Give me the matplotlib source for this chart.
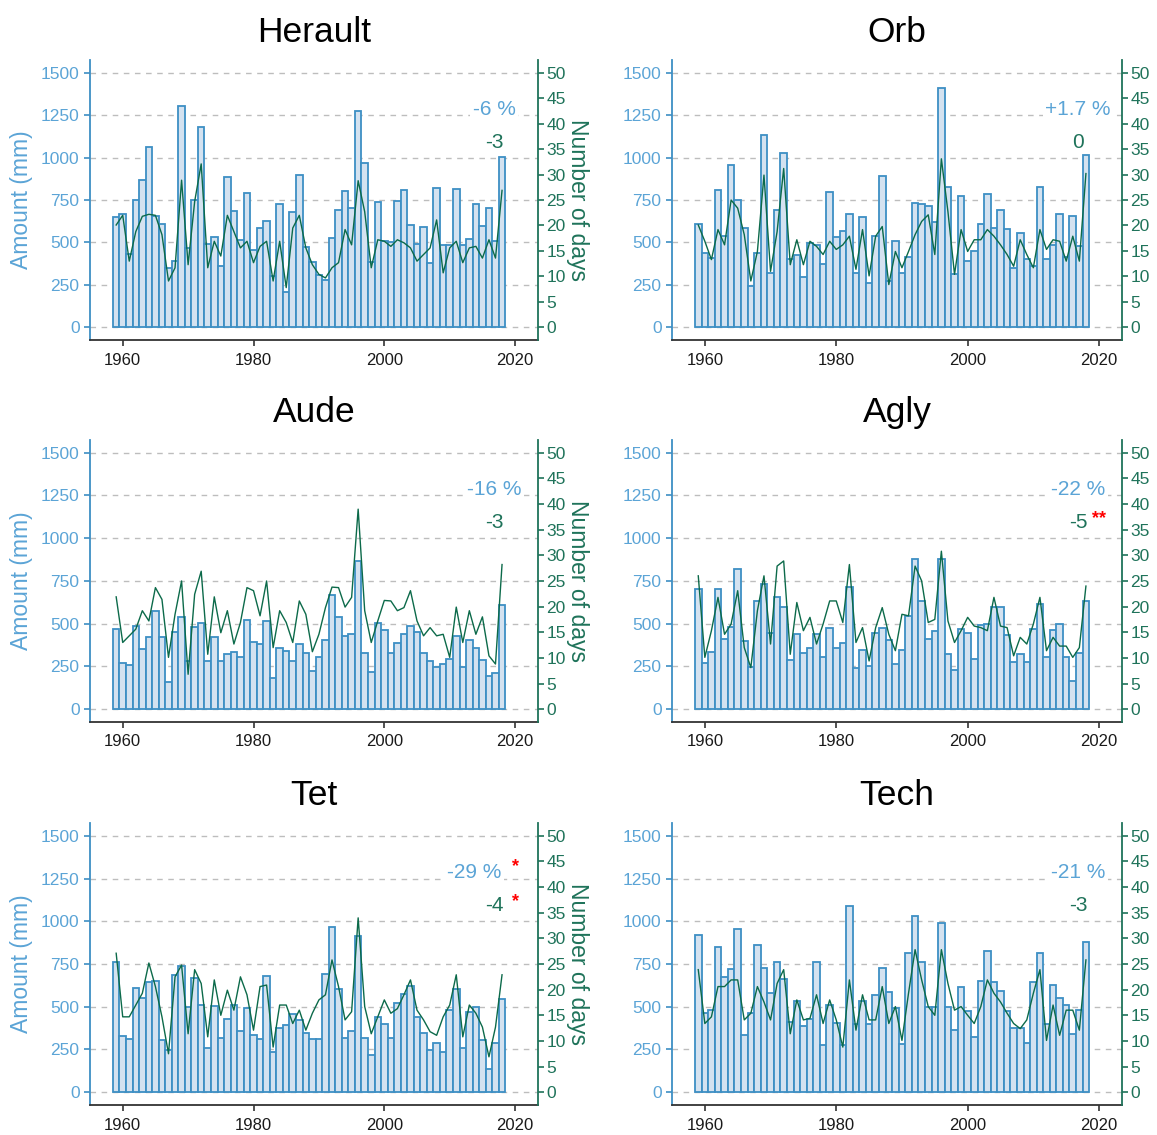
import matplotlib
matplotlib.use("Agg")
import matplotlib.pyplot as plt
import numpy as np

plt.rcParams['font.family'] = ['Liberation Sans', 'DejaVu Sans']

years = np.arange(1959, 2019)

herault_mm = [650, 665, 430, 750, 870, 1063, 658, 608, 349, 390,
              1305, 468, 752, 1183, 489, 532, 364, 886, 686, 516,
              793, 458, 584, 627, 300, 727, 210, 678, 896, 473,
              387, 309, 279, 527, 694, 803, 702, 1273, 970, 387,
              737, 508, 500, 747, 811, 602, 493, 590, 381, 820,
              488, 488, 813, 488, 518, 727, 596, 703, 508, 1006]
herault_days = [20.1, 22, 13, 18.8, 21.8, 22.2, 22, 18.2, 9.1, 11.7,
                28.9, 12.3, 24.7, 32.1, 11.7, 16.9, 14, 22, 18.8, 15.6,
                16.9, 12.7, 15.9, 16.9, 9.1, 16.9, 7.8, 19.5, 22, 15.6,
                12.3, 10.4, 9.7, 11.7, 12.7, 19.2, 16.2, 28.8, 22.7, 11.7,
                17.2, 16.9, 15.9, 17.2, 16.6, 15.6, 13, 14.3, 15.6, 21.1,
                10.7, 15.6, 16.9, 12.7, 15.6, 15.9, 13.6, 17.2, 13.6, 26.9]

orb_mm = [608, 438, 410, 808, 540, 955, 750, 584, 244, 438,
          1136, 321, 692, 1027, 405, 429, 296, 497, 487, 374,
          795, 530, 565, 666, 321, 649, 263, 536, 892, 270,
          507, 318, 415, 734, 727, 717, 618, 1409, 828, 312,
          776, 390, 448, 608, 785, 584, 692, 577, 347, 557,
          403, 364, 826, 405, 487, 666, 415, 658, 481, 1013]
orb_days = [20.1, 16.9, 13.3, 19.2, 16.2, 25, 23.4, 18.2, 9.1, 14.9,
            29.9, 11, 18.8, 31.2, 12.3, 17.2, 12.3, 16.9, 15.9, 14.3,
            16.9, 15.3, 16.2, 17.9, 11.4, 19.2, 10.1, 17.9, 19.8, 8.4,
            14.9, 11.7, 14.9, 18.2, 20.8, 22.1, 14.3, 33.1, 22.7, 10.4,
            19.2, 14.9, 17.2, 17.2, 19.2, 17.9, 16.2, 14.3, 12, 17.2,
            14.3, 11.7, 19.2, 15.3, 17.2, 16.9, 13, 17.9, 13, 30.2]

aude_mm = [471, 269, 261, 489, 353, 423, 575, 423, 160, 454,
           540, 282, 479, 505, 279, 423, 279, 321, 337, 304,
           524, 395, 380, 514, 185, 355, 339, 279, 380, 327,
           224, 306, 403, 668, 540, 427, 442, 867, 329, 220,
           505, 464, 329, 388, 438, 489, 454, 329, 279, 244,
           263, 294, 429, 244, 403, 360, 286, 193, 212, 608]
aude_days = [21.9, 13, 14.3, 15.6, 19.2, 17.2, 23.7, 21.4, 10.1, 18.5,
             25, 6.8, 22.4, 26.9, 10.7, 21.9, 14.9, 19.2, 12.7, 16.9,
             23.7, 23.1, 18.2, 25, 12, 19.2, 16.9, 13, 21.1, 18.5,
             11.2, 14.6, 19.8, 23.8, 23.7, 19.9, 21.8, 39, 19.2, 13,
             17.2, 21.2, 21.1, 19.2, 19.8, 23.1, 17.2, 14.3, 15.9, 14.3,
             14.6, 10.1, 19.9, 13, 19.2, 14.6, 18, 10.4, 8.8, 28.2]

agly_mm = [701, 271, 337, 701, 413, 481, 818, 399, 244, 633,
           733, 444, 658, 596, 286, 438, 329, 355, 438, 304,
           473, 360, 388, 715, 238, 345, 251, 446, 473, 405,
           263, 347, 545, 877, 633, 409, 458, 877, 321, 228,
           471, 444, 292, 491, 497, 600, 598, 434, 275, 325,
           275, 471, 614, 306, 462, 497, 306, 166, 331, 633]
agly_days = [26, 10.1, 15.3, 21.8, 14.6, 16.6, 23.1, 12, 8.1, 19.2,
             26, 12.7, 27.9, 28.9, 10.7, 20.8, 15.3, 17.9, 12.7, 16.6,
             21.1, 21.1, 16.9, 28.2, 13, 15.9, 9.4, 15.9, 19.8, 14.6,
             11.4, 18.5, 18.2, 27.9, 25, 16.9, 17.5, 30.8, 17.2, 13,
             15.3, 17.9, 16.2, 15.9, 15.3, 21.8, 16.2, 15.9, 10.4, 14,
             12.7, 16.6, 21.8, 11.4, 14, 12.3, 12.3, 10.1, 12, 24]

tet_mm = [761, 327, 312, 608, 549, 647, 651, 304, 245, 686,
          739, 500, 671, 508, 261, 506, 320, 429, 508, 357,
          490, 337, 312, 678, 235, 378, 396, 457, 422, 349,
          312, 312, 690, 965, 602, 320, 357, 916, 320, 220,
          441, 398, 320, 524, 573, 622, 441, 349, 245, 288,
          235, 480, 602, 261, 467, 500, 304, 137, 288, 543]
tet_days = [27.1, 14.7, 14.7, 17, 19.3, 25.2, 20.6, 14.7, 7.5, 22.5,
            24.8, 11.4, 23.9, 21.2, 10.8, 21.9, 15, 19.9, 16, 22.5,
            19, 12.1, 20.6, 20.9, 8.8, 17, 17, 13.4, 16, 12.1,
            15.4, 18, 19, 25.8, 20.6, 14.1, 15.7, 34, 16.7, 11.4,
            14.7, 18, 15.4, 16.3, 19, 21.9, 16, 14.1, 11.8, 11.1,
            14.7, 17, 22.9, 10.8, 17, 15.4, 12.7, 6.9, 12.7, 22.9]

tech_mm = [922, 465, 480, 847, 676, 720, 957, 337, 461, 863,
           729, 582, 761, 661, 412, 533, 388, 431, 761, 278,
           510, 406, 278, 1092, 398, 533, 398, 569, 729, 584,
           490, 280, 814, 1033, 761, 496, 496, 990, 496, 363,
           618, 475, 324, 653, 829, 643, 592, 475, 373, 373,
           288, 643, 814, 398, 627, 549, 510, 339, 480, 880]
tech_days = [23.9, 13.4, 14.7, 20.6, 20.6, 21.9, 21.9, 14.1, 15.4, 20.6,
             17.6, 14.1, 21.2, 23.9, 11.4, 18, 14.1, 14.4, 19, 13.4,
             18, 14.1, 8.8, 21.9, 12.1, 19, 14.1, 14.1, 20.6, 13.4,
             16.7, 10.1, 19.3, 27.8, 21.9, 16.7, 15, 27.8, 21.2, 16,
             16.7, 15, 13.4, 16.7, 21.9, 19.3, 17.6, 15.4, 13.4, 12.4,
             14.1, 19.3, 23.9, 10.1, 17, 11.1, 16, 16, 12.1, 25.8]

rivers = ["Herault", "Orb", "Aude", "Agly", "Tet", "Tech"]
amounts = [herault_mm, orb_mm, aude_mm, agly_mm, tet_mm, tech_mm]
days = [herault_days, orb_days, aude_days, agly_days, tet_days, tech_days]
pct_labels = ["-6 %", "+1.7 %", "-16 %", "-22 %", "-29 %", "-21 %"]
day_labels = ["-3", "0", "-3", "-5", "-4", "-3"]
pct_stars = ["", "", "", "", "*", ""]
day_stars = ["", "", "", "**", "*", ""]

BLUE_TXT = "#5BA4D6"
BAR_EDGE = "#3D8FC4"
BAR_FILL = "#D4E2F0"
LINE_GREEN = "#0C6A4A"
AX_GREEN = "#1F735A"
GRID = "#BDBDBD"

# axes rectangles in figure fraction (left, bottom, width, height)
rects = [
    [0.0778, 0.7004, 0.3872, 0.2467], [0.5808, 0.7004, 0.3890, 0.2467],
    [0.0778, 0.3639, 0.3872, 0.2485], [0.5808, 0.3639, 0.3890, 0.2485],
    [0.0778, 0.0264, 0.3872, 0.2485], [0.5808, 0.0264, 0.3890, 0.2485],
]


def draw_panel(fig, k):
    ax = fig.add_axes(rects[k])
    ax.set_axisbelow(True)
    ax.bar(years, amounts[k], width=1.0, color=BAR_FILL,
           edgecolor=BAR_EDGE, linewidth=1.3, zorder=2)
    ax.set_xlim(1955, 2023.5)
    ax.set_ylim(-75, 1575)
    ax.set_yticks(np.arange(0, 1501, 250))
    ax.set_xticks([1960, 1980, 2000, 2020])
    ax.yaxis.grid(True, linestyle=(0, (4, 4)), color=GRID, linewidth=1.0)
    for s in ["top", "right"]:
        ax.spines[s].set_visible(False)
    ax.spines["left"].set_color(BAR_EDGE)
    ax.spines["left"].set_linewidth(1.3)
    ax.spines["bottom"].set_color("#333333")
    ax.spines["bottom"].set_linewidth(1.3)
    ax.tick_params(axis="y", colors=BAR_EDGE, labelcolor=BLUE_TXT,
                   labelsize=12.5, length=4, width=1.2)
    ax.tick_params(axis="x", colors="#333333", labelcolor="#1a1a1a",
                   labelsize=12, length=4, width=1.2, pad=5)
    ax.set_title(rivers[k], fontsize=25.5, pad=13)

    ax2 = ax.twinx()
    ax2.plot(years, days[k], color=LINE_GREEN, linewidth=1.0, zorder=3)
    ax2.set_ylim(-2.5, 52.5)
    ax2.set_yticks(np.arange(0, 51, 5))
    for s in ["top", "left", "bottom"]:
        ax2.spines[s].set_visible(False)
    ax2.spines["right"].set_color(AX_GREEN)
    ax2.spines["right"].set_linewidth(1.3)
    ax2.tick_params(axis="y", colors=AX_GREEN, labelcolor=AX_GREEN,
                    labelsize=12.5, length=4, width=1.2, pad=2)

    pct_x = 2013.8 if pct_stars[k] else 2016.8
    ax.text(pct_x, 1285, pct_labels[k], color=BLUE_TXT, fontsize=15,
            ha="center", va="center", zorder=4,
            bbox=dict(facecolor="white", edgecolor="none", pad=2))
    ax.text(2016.8, 1090, day_labels[k], color=AX_GREEN, fontsize=15,
            ha="center", va="center", zorder=4)
    if pct_stars[k]:
        ax.text(2020, 1320, pct_stars[k], color="red", fontsize=13,
                ha="center", va="center", fontweight="bold")
    if day_stars[k]:
        ax.text(2020, 1115, day_stars[k], color="red", fontsize=13,
                ha="center", va="center", fontweight="bold")

    if k % 2 == 0:
        ax.text(-0.152, 0.5, "Amount (mm)", transform=ax.transAxes,
                rotation=90, ha="center", va="center", fontsize=16.5,
                color=BLUE_TXT)
        ax.text(1.089, 0.5, "Number of days", transform=ax.transAxes,
                rotation=270, ha="center", va="center", fontsize=16.5,
                color=AX_GREEN)


def main():
    fig = plt.figure(figsize=(11.57, 11.35), dpi=100)
    for k in range(len(rivers)):
        draw_panel(fig, k)
    fig.savefig("out.png", dpi=100, facecolor="white")


if __name__ == "__main__":
    main()
